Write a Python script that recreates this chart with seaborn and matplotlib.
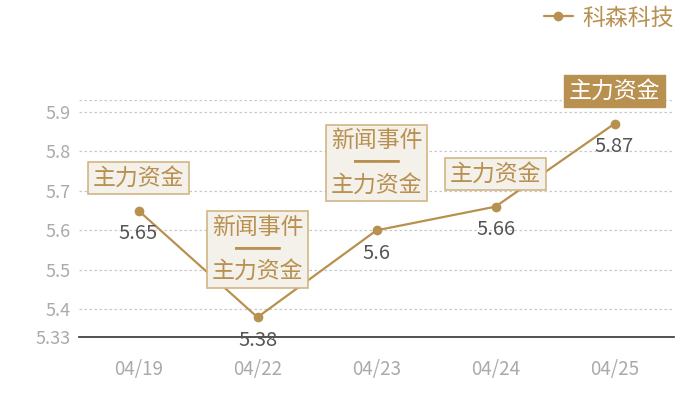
import matplotlib
matplotlib.use("Agg")
import matplotlib.pyplot as plt
import seaborn as sns
import pandas as pd

dates = ["04/19", "04/22", "04/23", "04/24", "04/25"]
values = [5.65, 5.38, 5.60, 5.66, 5.87]
notes = ["主力资金", "新闻事件\n━━\n主力资金", "新闻事件\n━━\n主力资金", "主力资金", "主力资金"]
highlight = [False, False, False, False, True]
series_name = "科森科技"
yticks = [5.33, 5.4, 5.5, 5.6, 5.7, 5.8, 5.9]
ymin, ymax = 5.33, 5.93

GOLD = "#b8904f"
BOX_FILL = "#f4f0ea"
BOX_EDGE = "#d2b584"

sns.set_theme(style="white")
plt.rcParams["font.family"] = ["Noto Sans CJK SC", "DejaVu Sans"]

df = pd.DataFrame({"date": dates, "value": values, "series": series_name})

fig = plt.figure(figsize=(7, 4), dpi=100)
ax = fig.add_axes([79 / 700, 1 - 337 / 400, (674 - 79) / 700, (337 - 100) / 400])

sns.lineplot(data=df, x="date", y="value", hue="series", palette=[GOLD],
             marker="o", markersize=7, markeredgewidth=0, linewidth=1.6,
             sort=False, ax=ax, legend=True)

ax.set_xlim(-0.5, len(dates) - 0.5)
ax.set_ylim(ymin, ymax)
ax.set_yticks(yticks)
ax.set_yticklabels([f"{t:g}" for t in yticks])
ax.set_xlabel("")
ax.set_ylabel("")

for t in yticks[1:] + [ymax]:
    ax.axhline(t, color="#c8c8c8", lw=0.9, ls=(0, (2, 2)), zorder=0)

for s in ["top", "right", "left"]:
    ax.spines[s].set_visible(False)
ax.spines["bottom"].set_color("#333333")
ax.spines["bottom"].set_linewidth(1.2)
ax.tick_params(axis="both", length=0, colors="#aaaaaa")
ax.tick_params(axis="x", pad=16, labelsize=13.5)
ax.tick_params(axis="y", pad=6, labelsize=13)

for i, (v, n, h) in enumerate(zip(values, notes, highlight)):
    ax.annotate(f"{v:g}", (i, v), xytext=(0, -23), textcoords="offset pixels",
                ha="center", va="center", fontsize=14.5, color="#555555")
    multi = "\n" in n
    off = 34 if multi else 21
    if h:
        bbox = dict(boxstyle="square,pad=0.2", fc=GOLD, ec=GOLD, lw=1)
        tc = "white"
    else:
        bbox = dict(boxstyle="square,pad=0.2", fc=BOX_FILL, ec=BOX_EDGE, lw=1.2)
        tc = GOLD
    ax.annotate(n, (i, v), xytext=(0, off), textcoords="offset pixels",
                ha="center", va="bottom", multialignment="center",
                fontsize=16.5, color=tc, bbox=bbox, linespacing=0.95)

leg = ax.legend(loc="center right", bbox_to_anchor=(674 / 700, 1 - 18 / 400),
                bbox_transform=fig.transFigure, frameon=False, handlelength=1.3,
                handletextpad=0.4, fontsize=16.5, labelcolor=GOLD,
                borderpad=0, borderaxespad=0)

fig.savefig("out.png", dpi=100)
